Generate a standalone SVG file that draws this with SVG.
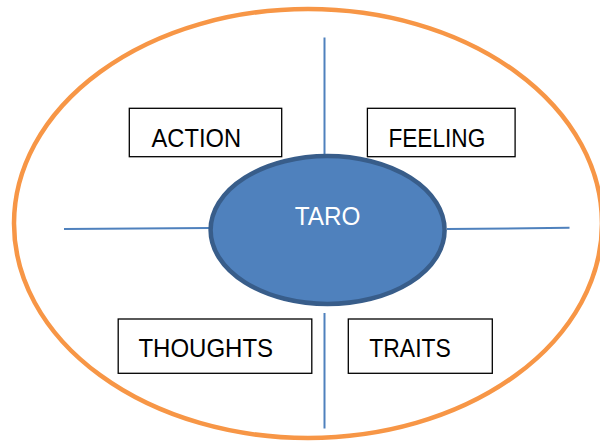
<svg xmlns="http://www.w3.org/2000/svg" width="600" height="442" viewBox="0 0 600 442">
<style>
.lbl{font-family:"Liberation Sans",Arial,sans-serif;font-size:25.5px;fill:#000}
.box{fill:#fff;stroke:#000;stroke-width:1.3}
.conn{stroke:#4F81BD;stroke-width:2;fill:none}
</style>
<rect width="600" height="442" fill="#fff"/>
<g id="outer"><ellipse cx="308" cy="223.5" rx="294" ry="214.5" fill="none" stroke="#F79646" stroke-width="4.5"/></g>
<g id="connectors">
<line class="conn" x1="324.5" y1="37.5" x2="324.5" y2="156"/>
<line class="conn" x1="324.5" y1="313" x2="324.5" y2="428.5"/>
<line class="conn" x1="64" y1="229" x2="210" y2="228"/>
<line class="conn" x1="447" y1="229" x2="569.5" y2="227.8"/>
</g>
<g id="taro">
<ellipse cx="327.6" cy="230" rx="117" ry="74" fill="#4F81BD" stroke="#385D8A" stroke-width="4.5"/>
<text x="294.7" y="225" class="lbl" style="fill:#fff" textLength="65.8" lengthAdjust="spacingAndGlyphs">TARO</text>
</g>
<g id="action">
<rect class="box" x="129.3" y="108.3" width="152.4" height="48.4"/>
<text x="151.5" y="146.7" class="lbl" textLength="89.5" lengthAdjust="spacingAndGlyphs">ACTION</text>
</g>
<g id="feeling">
<rect class="box" x="367.4" y="108.3" width="147.7" height="48.4"/>
<text x="388.4" y="146.7" class="lbl" textLength="96.9" lengthAdjust="spacingAndGlyphs">FEELING</text>
</g>
<g id="thoughts">
<rect class="box" x="118.2" y="319" width="193.6" height="54.3"/>
<text x="138.4" y="356.5" class="lbl" textLength="134.7" lengthAdjust="spacingAndGlyphs">THOUGHTS</text>
</g>
<g id="traits">
<rect class="box" x="348.3" y="319" width="144" height="54.3"/>
<text x="369.3" y="356.5" class="lbl" textLength="81.5" lengthAdjust="spacingAndGlyphs">TRAITS</text>
</g>
</svg>
